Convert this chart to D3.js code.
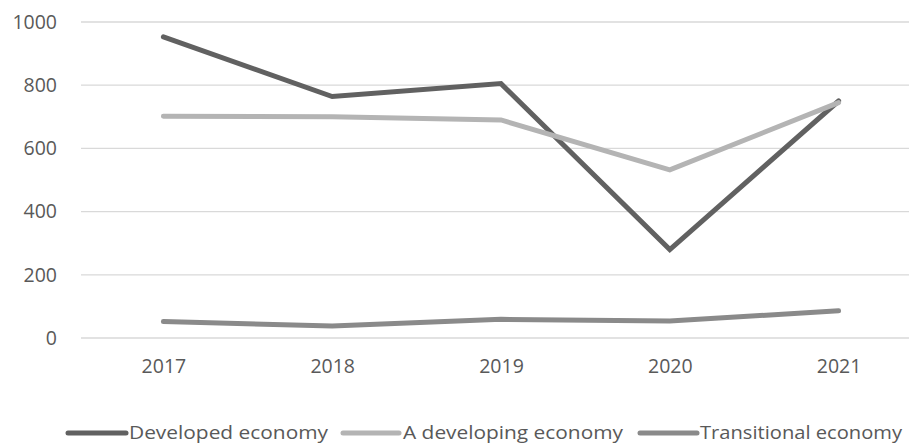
<!DOCTYPE html>
<html>
<head>
<meta charset="utf-8">
<script src="https://cdn.jsdelivr.net/npm/d3@7"></script>
<style>
  html, body { margin: 0; padding: 0; background: #fff; }
  svg { display: block; font-family: "Open Sans", "Noto Sans", sans-serif; }
</style>
</head>
<body>
<svg id="chart" width="909" height="445"></svg>
<script>
// Years on the category axis
const years = ["2017", "2018", "2019", "2020", "2021"];

// Series values
const developed = [953, 764, 805, 280, 750];
const developing = [702, 700, 690, 532, 745];
const transitional = [52, 38, 59, 54, 86];

// Y axis ticks
const yTicks = [0, 200, 400, 600, 800, 1000];

const seriesNames = ["Developed economy", "A developing economy", "Transitional economy"];
const seriesColors = ["#616161", "#b4b4b4", "#8a8a8a"];

const series = [developed, developing, transitional].map((vals, i) => ({
  name: seriesNames[i],
  color: seriesColors[i],
  values: vals
}));

const svg = d3.select("#chart");
const textColor = "#595959";

const x = d3.scalePoint().domain(years).range([79, 923]).padding(0.5);
const y = d3.scaleLinear().domain([0, 1000]).range([338, 22]);

// Horizontal gridlines
svg.append("g")
  .selectAll("line")
  .data(yTicks)
  .join("line")
  .attr("x1", 81).attr("x2", 909)
  .attr("y1", d => y(d)).attr("y2", d => y(d))
  .attr("stroke", "#d9d9d9")
  .attr("stroke-width", 1.3);

// Y axis labels
const yAxis = svg.append("g")
  .attr("transform", "translate(81,0)")
  .call(d3.axisLeft(y).tickValues(yTicks).tickSize(0).tickPadding(24).tickFormat(d3.format("d")));
yAxis.select(".domain").remove();
yAxis.selectAll("text")
  .attr("fill", textColor)
  .attr("font-size", 19.5)
  .attr("font-family", "Open Sans, sans-serif");

// X axis labels
const xAxis = svg.append("g")
  .attr("transform", "translate(0,338)")
  .call(d3.axisBottom(x).tickSize(0).tickPadding(21));
xAxis.select(".domain").remove();
xAxis.selectAll("text")
  .attr("fill", textColor)
  .attr("font-size", 19.5)
  .attr("font-family", "Open Sans, sans-serif");

// Series lines
const line = d3.line()
  .x((d, i) => x(years[i]))
  .y(d => y(d));

svg.append("g")
  .selectAll("path")
  .data(series)
  .join("path")
  .attr("d", d => line(d.values))
  .attr("fill", "none")
  .attr("stroke", d => d.color)
  .attr("stroke-width", 5)
  .attr("stroke-linecap", "round")
  .attr("stroke-linejoin", "miter");

// Legend
const legendLayout = [
  { x1: 68, x2: 126, tx: 129, tw: 199 },
  { x1: 343, x2: 399, tx: 403, tw: 220 },
  { x1: 640, x2: 697, tx: 700, tw: 202 }
];
const legendY = 433;
const legend = svg.append("g")
  .selectAll("g")
  .data(series)
  .join("g");

legend.append("line")
  .attr("x1", (d, i) => legendLayout[i].x1)
  .attr("x2", (d, i) => legendLayout[i].x2)
  .attr("y1", legendY).attr("y2", legendY)
  .attr("stroke", d => d.color)
  .attr("stroke-width", 5)
  .attr("stroke-linecap", "round");

legend.append("text")
  .attr("x", (d, i) => legendLayout[i].tx)
  .attr("y", legendY)
  .attr("dy", "0.35em")
  .attr("fill", textColor)
  .attr("font-size", 18)
  .attr("textLength", (d, i) => legendLayout[i].tw)
  .attr("lengthAdjust", "spacingAndGlyphs")
  .text(d => d.name);
</script>
</body>
</html>
